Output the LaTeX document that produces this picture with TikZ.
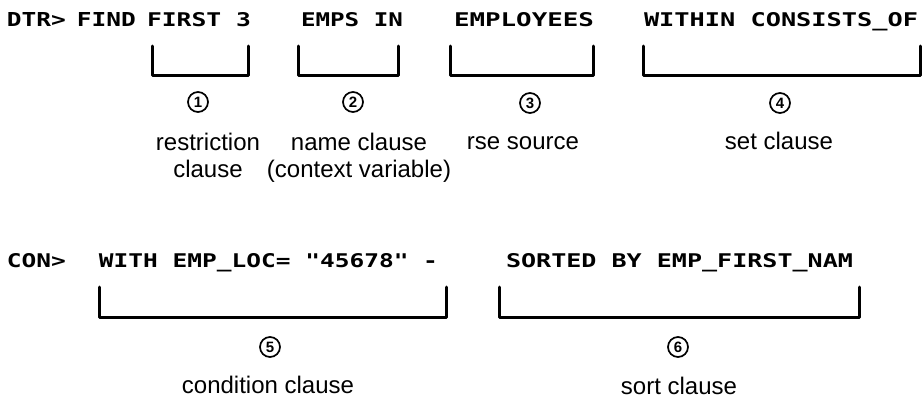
\documentclass[tikz,border=0pt]{standalone}
\usepackage{fontspec}
\setmainfont{Liberation Sans}
\newfontfamily\termfont{DejaVu Sans Mono}
\usepackage{graphicx}
\newcommand\cmdtxt[2]{\resizebox{#1pt}{14pt}{\termfont\bfseries #2}}
\tikzset{
  cmd/.style={anchor=base west, inner sep=0pt, outer sep=0pt},
  lbl/.style={font=\fontsize{24}{27}\selectfont, align=center, inner sep=0pt, anchor=base},
  num/.style={circle, draw, line width=1.7pt, minimum size=20pt, inner sep=0pt,
              font=\fontsize{15}{15}\selectfont\bfseries},
  brk/.style={line width=3pt, line cap=round, line join=round},
}
\begin{document}
\begin{tikzpicture}[x=1pt,y=-1pt]
\useasboundingbox (0,0) rectangle (922,399);

% command line 1
\node[cmd] (dtr)  at (7,26)   {\cmdtxt{59}{DTR>}};
\node[cmd] (find) at (77,26)  {\cmdtxt{59}{FIND}};
\node[cmd] (first) at (147,26) {\cmdtxt{104}{FIRST 3}};
\node[cmd] (emps) at (301,26) {\cmdtxt{102}{EMPS IN}};
\node[cmd] (empl) at (454,26) {\cmdtxt{140}{EMPLOYEES}};
\node[cmd] (within) at (644,26) {\cmdtxt{274}{WITHIN CONSISTS\_OF}};

% command line 2
\node[cmd] (con)  at (7,267)  {\cmdtxt{59}{CON>}};
\node[cmd] (with) at (99,267) {\cmdtxt{339}{WITH EMP\_LOC= "45678" -}};
\node[cmd] (sorted) at (506,267) {\cmdtxt{347}{SORTED BY EMP\_FIRST\_NAM}};

% brackets
\draw[brk] (152,46) -- (152,75) -- (248,75) -- (248,46);
\draw[brk] (298,46) -- (298,75) -- (398,75) -- (398,46);
\draw[brk] (450,46) -- (450,75) -- (593,75) -- (593,46);
\draw[brk] (643,46) -- (643,75) -- (920,75) -- (920,46);
\draw[brk] (99,287) -- (99,317) -- (446,317) -- (446,287);
\draw[brk] (499,287) -- (499,317) -- (859,317) -- (859,287);

% circled numbers
\node[num] (n1) at (198,102) {1};
\node[num] (n2) at (353,102) {2};
\node[num] (n3) at (530,103) {3};
\node[num] (n4) at (780,103) {4};
\node[num] (n5) at (270,347) {5};
\node[num] (n6) at (678,347) {6};

% labels
\node[lbl] (l1) at (208,177) {restriction\\clause};
\node[lbl] (l2) at (359,177) {name clause\\(context variable)};
\node[lbl] (l3) at (523,149) {rse source};
\node[lbl] (l4) at (779,149) {set clause};
\node[lbl] (l5) at (268,393) {condition clause};
\node[lbl] (l6) at (679,394) {sort clause};
\end{tikzpicture}
\end{document}
